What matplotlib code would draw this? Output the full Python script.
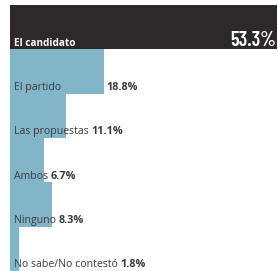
import matplotlib
matplotlib.use("Agg")
import matplotlib.pyplot as plt

categories = ["El candidato", "El partido", "Las propuestas", "Ambos", "Ninguno", "No sabe/No contestó"]
values = [53.3, 18.8, 11.1, 6.7, 8.3, 1.8]
value_labels = ["53.3%", "18.8%", "11.1%", "6.7%", "8.3%", "1.8%"]

dark = "#2d292a"
blue = "#83b5c9"
txt = "#3b3b3b"
font = ["Open Sans", "DejaVu Sans"]

fig = plt.figure(figsize=(2.78, 2.71), dpi=100)
ax = fig.add_axes([0, 0, 1, 1])
ax.set_xlim(-2.0, 53.5)
ax.set_ylim(5.5, -0.61)
ax.axis("off")

colors = [dark] + [blue] * (len(values) - 1)
ax.barh(range(len(values)), values, height=1.0, color=colors, edgecolor="none")

fig.canvas.draw()
renderer = fig.canvas.get_renderer()
inv = ax.transData.inverted()

for i, (cat, v, vl) in enumerate(zip(categories, values, value_labels)):
    yb = i + 0.5 - 0.08
    if i == 0:
        ax.text(0.8, yb, cat, color="white", fontsize=7.2, fontweight="bold",
                family=font, va="baseline", ha="left")
        ax.text(v - 0.1, yb, vl, color="white", fontsize=14.5, fontweight=600,
                family=["Barlow Condensed", "DejaVu Sans"],
                va="baseline", ha="right")
        continue
    t = ax.text(0.8, yb, cat, color=txt, fontsize=7.6,
                family=font, va="baseline", ha="left")
    bb = t.get_window_extent(renderer)
    label_end = inv.transform((bb.x1, bb.y0))[0]
    x = max(v, label_end) + 0.5
    ax.text(x, yb, vl, color=txt, fontsize=7.8, fontweight="bold",
            family=font, va="baseline", ha="left")

fig.savefig("out.png", dpi=100)
